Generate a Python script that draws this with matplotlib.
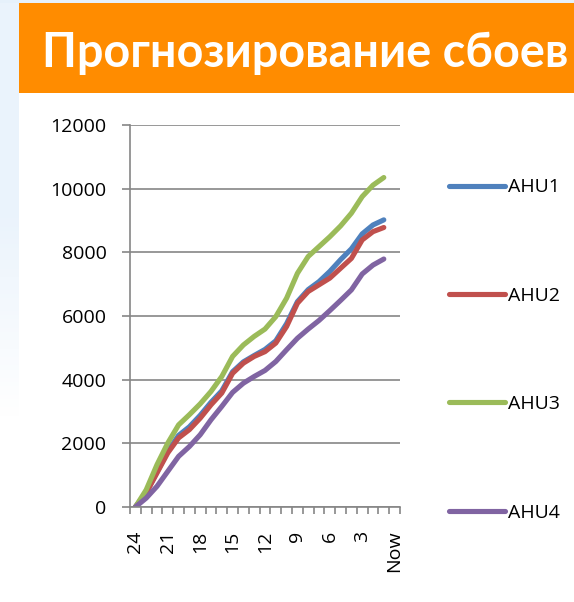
import numpy as np
import matplotlib
matplotlib.use('Agg')
import matplotlib.pyplot as plt
from matplotlib.patches import Rectangle
from matplotlib.ticker import FixedLocator

plt.rcParams['font.family'] = ['Open Sans', 'DejaVu Sans']

# hours before failure, "Now" has no value yet
categories = ['24', '23', '22', '21', '20', '19', '18', '17', '16', '15', '14', '13',
              '12', '11', '10', '9', '8', '7', '6', '5', '4', '3', '2', '1', 'Now']
shown_labels = ['24', '21', '18', '15', '12', '9', '6', '3', 'Now']

ahu1 = [0, 450, 1100, 1750, 2250, 2520, 2880, 3290, 3650, 4250, 4560, 4760,
        4950, 5220, 5760, 6450, 6830, 7080, 7400, 7770, 8110, 8580, 8860, 9020]
ahu2 = [0, 440, 1070, 1700, 2170, 2430, 2790, 3210, 3580, 4200, 4520, 4730,
        4880, 5150, 5670, 6400, 6770, 6980, 7190, 7500, 7810, 8390, 8650, 8780]
ahu3 = [0, 540, 1330, 2010, 2580, 2900, 3240, 3630, 4100, 4730, 5090, 5360,
        5590, 5980, 6560, 7340, 7870, 8180, 8490, 8830, 9230, 9750, 10110, 10350]
ahu4 = [0, 280, 650, 1120, 1590, 1900, 2270, 2740, 3160, 3600, 3890, 4100,
        4290, 4570, 4940, 5300, 5590, 5860, 6170, 6490, 6820, 7320, 7600, 7790]

series = [('AHU1', ahu1, '#4F81BD'),
          ('AHU2', ahu2, '#C0504D'),
          ('AHU3', ahu3, '#9BBB59'),
          ('AHU4', ahu4, '#8064A2')]

W, H = 574, 602
fig = plt.figure(figsize=(W / 100, H / 100), dpi=100)
fig.patch.set_facecolor('white')

# slide background: light blue strip on the left and top
bg = fig.add_axes([0, 0, 1, 1], zorder=-10)
bg.axis('off')
bg.set_xlim(0, W)
bg.set_ylim(H, 0)
grad = np.linspace(0, 1, 100).reshape(-1, 1)
bg.imshow(grad, cmap=matplotlib.colors.LinearSegmentedColormap.from_list(
    'fade', ['#EAF3FC', '#EAF3FC', '#FFFFFF']), extent=(0, 19, 420, 0), aspect='auto')
bg.add_patch(Rectangle((0, 0), W, 3, color='#E6F1FB', lw=0))
bg.add_patch(Rectangle((19, 3), W - 19, 90, color='#FF8C00', lw=0))
title = bg.text(42, 67, 'Прогнозирование сбоев', color='white', fontsize=31,
                fontweight='bold', va='baseline', ha='left', family='Lato')

# scale title so it spans the banner like in the slide
fig.canvas.draw()
tw = title.get_window_extent().width
title.set_fontsize(31 * 526 / tw)

ax = fig.add_axes([130 / W, 1 - 507 / H, 270 / W, 382 / H])
x = np.arange(len(categories))
for name, vals, col in series:
    ax.plot(x[:len(vals)], vals, color=col, lw=3.7, label=name,
            solid_capstyle='round', solid_joinstyle='round')

ax.set_xlim(-0.5, len(categories) - 0.5)
ax.set_ylim(0, 12000)
ax.set_yticks(np.arange(0, 12001, 2000))
ax.yaxis.grid(True, color='#868686', lw=1.2)
ax.set_axisbelow(True)
for s in ['top', 'right']:
    ax.spines[s].set_visible(False)
for s in ['left', 'bottom']:
    ax.spines[s].set_color('#868686')
    ax.spines[s].set_linewidth(1.2)

idx = [categories.index(c) for c in shown_labels]
ax.set_xticks(idx)
ax.set_xticklabels(shown_labels, rotation=90)
ax.xaxis.set_minor_locator(FixedLocator(np.arange(-0.5, len(categories), 1)))
ax.tick_params(axis='x', which='major', length=0, pad=17, labelsize=14)
ax.tick_params(axis='x', which='minor', length=5, width=1.2, color='#868686')
ax.tick_params(axis='y', length=6, width=1.2, color='#868686', pad=11, labelsize=14)

fig.legend(loc='center left', bbox_to_anchor=(449 / W, 1 - 350 / H), frameon=False,
           borderpad=0, borderaxespad=0, handlelength=2.88, handletextpad=0.15,
           labelspacing=4.65, fontsize=14)

fig.savefig('out.png', dpi=100)
